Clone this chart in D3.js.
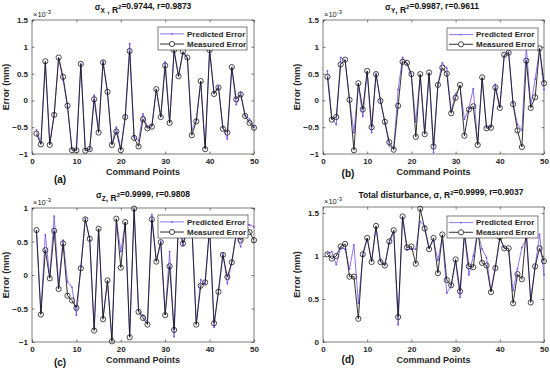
<!DOCTYPE html>
<html><head><meta charset="utf-8">
<script src="https://cdn.jsdelivr.net/npm/d3@7"></script>
<style>
body{margin:0;background:#fff}
svg{display:block}
text{font-family:"Liberation Sans",Arial,sans-serif}
</style></head>
<body>
<svg id="c" width="550" height="376"></svg>
<script>
const points = d3.range(1, 51);
const xTicks = [0, 10, 20, 30, 40, 50];

const measX = [-0.62,-0.82,0.73,-0.83,-0.27,0.80,0.44,-0.10,-0.93,-0.93,0.68,-0.94,-0.91,0.02,-0.60,0.71,0.16,-0.83,-0.58,-0.93,-0.31,0.92,-0.70,-0.86,-0.35,-0.52,-0.49,0.21,-0.31,0.65,-0.42,0.94,0.45,0.91,0.80,-0.65,-0.39,0.36,-0.91,0.94,0.12,0.24,-0.53,-0.60,0.62,0.02,0.11,-0.29,-0.42,-0.51];
const predX = [-0.55,-0.80,0.70,-0.80,-0.25,0.78,0.38,-0.12,-0.90,-0.92,0.68,-0.90,-0.92,0.10,-0.55,0.73,0.14,-0.80,-0.50,-0.90,-0.30,1.06,-0.68,-0.75,-0.25,-0.50,-0.46,0.20,-0.30,0.72,-0.40,0.90,0.46,0.88,0.78,-0.55,-0.36,0.34,-0.88,0.95,0.14,0.26,-0.50,-0.72,0.60,-0.08,0.15,-0.28,-0.35,-0.50];

const measY = [0.44,-0.36,-0.31,0.67,0.76,0.01,-0.93,0.32,-0.17,0.55,-0.50,0.49,-0.01,-0.40,-0.78,-0.92,-0.10,0.72,0.70,0.49,-0.68,0.49,-0.63,0.52,-0.86,0.29,0.61,0.50,-0.24,0.05,0.29,-0.66,-0.17,-0.11,-0.83,0.43,-0.52,-0.51,0.24,-0.14,0.85,0.89,-0.07,-0.56,-0.87,0.74,-0.14,0.06,0.97,0.32];
const predY = [0.55,-0.33,-0.45,0.80,0.74,0.00,-0.60,0.30,-0.30,0.52,-0.60,0.50,0.00,-0.42,-0.85,-0.90,0.20,0.80,0.68,0.45,-0.40,0.47,-0.60,0.50,-0.97,0.30,0.70,0.60,-0.20,0.12,0.25,-0.35,-0.15,0.22,-0.80,0.40,-0.50,-0.48,0.30,-0.12,0.82,0.90,-0.05,-0.45,-0.55,1.00,-0.10,0.40,0.95,0.20];

const measZ = [0.67,-0.59,0.37,-0.05,0.66,-0.21,0.47,-0.31,-0.38,-0.49,0.10,0.83,0.54,-0.83,0.69,-0.66,-0.08,-0.99,0.84,0.11,0.79,-0.93,0.99,-0.55,-0.64,-0.74,0.83,0.20,0.49,-0.60,0.13,-0.82,0.80,0.47,0.68,0.74,-0.74,-0.16,-0.11,0.72,-0.72,-0.25,0.30,-0.03,0.19,0.62,0.52,0.74,0.64,0.52];
const predZ = [0.66,-0.55,0.60,-0.02,0.88,-0.15,0.52,-0.10,-0.18,-0.60,0.12,0.85,0.52,-0.80,0.68,-0.62,-0.10,-0.95,0.82,0.35,0.78,-0.90,0.97,-0.52,-0.60,-0.70,0.90,0.22,0.50,-0.58,0.35,-0.92,0.78,0.44,0.66,0.72,-0.72,-0.07,-0.13,0.70,-0.78,-0.22,0.32,-0.13,0.20,0.60,0.42,0.76,0.75,0.72];

const measT = [1.02,0.97,1.00,1.11,1.14,0.76,0.76,0.27,1.02,1.21,0.93,1.35,0.93,0.89,1.17,1.30,0.29,1.46,1.10,1.11,0.91,1.55,1.32,1.08,1.21,0.80,1.25,0.72,0.66,0.96,0.59,1.27,0.88,0.87,1.30,0.92,0.89,0.58,0.86,1.22,1.09,1.09,0.45,0.79,0.73,1.30,0.46,0.88,1.09,0.94];
const predT = [1.03,1.05,0.90,1.10,1.08,0.85,1.13,0.45,1.00,1.20,0.95,1.33,0.95,0.90,1.15,1.28,0.20,1.45,1.07,1.08,1.08,1.40,1.35,1.10,1.18,0.95,1.22,0.57,0.65,0.94,0.52,1.25,0.78,1.00,1.28,1.08,0.98,0.60,0.88,1.20,1.10,1.05,0.60,0.85,1.10,1.20,0.50,0.88,1.25,0.78];

const yTicksA = [-1, -0.5, 0, 0.5, 1, 1.5];
const yTicksC = [-1, -0.5, 0, 0.5, 1];
const yTicksD = [0, 0.5, 1, 1.5];

const svg = d3.select("#c");
const predColor = "#7352ea";

const panels = [
  {meas: measX, pred: predX, box:[32,254,20,154], yd:[-1,1.5], yt:yTicksA, leg:[158,247,27,50],
   title:[{t:"σ",s:"X"},{t:" , R"},{t:"2",sup:1},{t:"=0.9744, r=0.9873"}], tx:143, ty:10, lab:"(a)", lx:60, ly:183},
  {meas: measY, pred: predY, box:[323,544,20,154], yd:[-1,1.5], yt:yTicksA, leg:[447,538,28,50],
   title:[{t:"σ",s:"Y"},{t:", R"},{t:"2",sup:1},{t:"=0.9987, r=0.9611"}], tx:432, ty:10, lab:"(b)", lx:348, ly:177},
  {meas: measZ, pred: predZ, box:[32,254,208,342], yd:[-1,1], yt:yTicksC, leg:[158,248,215,238],
   title:[{t:"σ",s:"Z"},{t:", R"},{t:"2",sup:1},{t:"=0.9999, r=0.9808"}], tx:143, ty:198, lab:"(c)", lx:60, ly:366},
  {meas: measT, pred: predT, box:[323,544,207,342], yd:[0,1.57], yt:yTicksD, leg:[447,538,216,238],
   title:[{t:"Total disturbance, "},{t:"σ"},{t:", R"},{t:"2",sup:1},{t:"=0.9999, r=0.9037"}], tx:441, ty:198, lab:"(d)", lx:348, ly:363}
];

panels.forEach(p => {
  const [L,R,T,B] = p.box;
  const x = d3.scaleLinear().domain([0,50]).range([L,R]);
  const y = d3.scaleLinear().domain(p.yd).range([B,T]);
  const g = svg.append("g");

  g.append("rect").attr("x",L).attr("y",T).attr("width",R-L).attr("height",B-T)
    .attr("fill","none").attr("stroke","#262626").attr("stroke-width",0.6);

  const fmt = d => d3.format("")(d);
  const xa = g.append("g").attr("transform",`translate(0,${B})`)
    .call(d3.axisBottom(x).tickValues(xTicks).tickSize(-2.5).tickPadding(4).tickFormat(fmt));
  const xt = g.append("g").attr("transform",`translate(0,${T})`)
    .call(d3.axisTop(x).tickValues(xTicks).tickSize(-2.5).tickFormat(""));
  const ya = g.append("g").attr("transform",`translate(${L},0)`)
    .call(d3.axisLeft(y).tickValues(p.yt).tickSize(-2.5).tickPadding(4).tickFormat(fmt));
  const yr = g.append("g").attr("transform",`translate(${R},0)`)
    .call(d3.axisRight(y).tickValues(p.yt).tickSize(-2.5).tickFormat(""));
  [xa,xt,ya,yr].forEach(a => {
    a.select(".domain").remove();
    a.selectAll("line").attr("stroke","#262626").attr("stroke-width",0.6);
    a.selectAll("text").attr("fill","#262626").style("font-size","8px").style("font-weight","bold")
      .style("font-family","'Liberation Sans',Arial,sans-serif");
  });

  const ex = g.append("text").attr("x",L+1).attr("y",T-3).attr("fill","#262626")
    .style("font-size","7.5px");
  ex.append("tspan").text("×10");
  ex.append("tspan").attr("dy",-3).style("font-size","6px").text("-3");

  const line = d3.line().x((d,i)=>x(points[i])).y(d=>y(d));
  g.append("path").datum(p.pred).attr("d",line).attr("fill","none")
    .attr("stroke",predColor).attr("stroke-width",0.8);
  g.selectAll(".pd").data(p.pred).join("circle").attr("cx",(d,i)=>x(points[i])).attr("cy",d=>y(d))
    .attr("r",0.9).attr("fill",predColor);
  g.append("path").datum(p.meas).attr("d",line).attr("fill","none")
    .attr("stroke","#1a1a1a").attr("stroke-width",0.9);
  g.selectAll(".md").data(p.meas).join("circle").attr("cx",(d,i)=>x(points[i])).attr("cy",d=>y(d))
    .attr("r",2.6).attr("fill","none").attr("stroke","#1a1a1a").attr("stroke-width",0.8);

  const [lx0,lx1,ly0,ly1] = p.leg;
  g.append("rect").attr("x",lx0).attr("y",ly0).attr("width",lx1-lx0).attr("height",ly1-ly0)
    .attr("fill","#fff").attr("stroke","#262626").attr("stroke-width",0.6);
  const r1 = ly0 + (ly1-ly0)*0.3, r2 = ly0 + (ly1-ly0)*0.74;
  g.append("line").attr("x1",lx0+2).attr("x2",lx0+26).attr("y1",r1).attr("y2",r1)
    .attr("stroke",predColor).attr("stroke-width",0.8);
  g.append("circle").attr("cx",lx0+14).attr("cy",r1).attr("r",0.9).attr("fill",predColor);
  g.append("line").attr("x1",lx0+2).attr("x2",lx0+26).attr("y1",r2).attr("y2",r2)
    .attr("stroke","#1a1a1a").attr("stroke-width",0.9);
  g.append("circle").attr("cx",lx0+14).attr("cy",r2).attr("r",2.6).attr("fill","#fff")
    .attr("stroke","#1a1a1a").attr("stroke-width",0.8);
  g.append("text").attr("x",lx0+29).attr("y",r1+2.8).text("Predicted Error")
    .style("font-size","8px").style("font-weight","bold").attr("fill","#262626");
  g.append("text").attr("x",lx0+29).attr("y",r2+2.8).text("Measured Error")
    .style("font-size","8px").style("font-weight","bold").attr("fill","#262626");

  const tt = g.append("text").attr("x",p.tx).attr("y",p.ty).attr("text-anchor","middle")
    .style("font-size","8.5px").style("font-weight","bold").attr("fill","#111");
  p.title.forEach(seg => {
    if (seg.sup) {
      tt.append("tspan").attr("dy",-3.5).style("font-size","6px").text(seg.t);
      tt.append("tspan").attr("dy",3.5).text("");
    } else if (seg.s) {
      tt.append("tspan").text(seg.t);
      tt.append("tspan").attr("dy",2.5).style("font-size","6.5px").text(seg.s);
      tt.append("tspan").attr("dy",-2.5).text("");
    } else {
      tt.append("tspan").text(seg.t);
    }
  });

  g.append("text").attr("x",(L+R)/2).attr("y",B+21).attr("text-anchor","middle")
    .text("Command Points").style("font-size","9px").style("font-weight","bold").attr("fill","#262626");
  g.append("text").attr("transform",`translate(${L-23},${(T+B)/2}) rotate(-90)`).attr("text-anchor","middle")
    .text("Error (mm)").style("font-size","9px").style("font-weight","bold").attr("fill","#262626");
  g.append("text").attr("x",p.lx).attr("y",p.ly).attr("text-anchor","middle")
    .text(p.lab).style("font-size","10px").style("font-weight","bold").attr("fill","#111");
});
</script>
</body></html>
